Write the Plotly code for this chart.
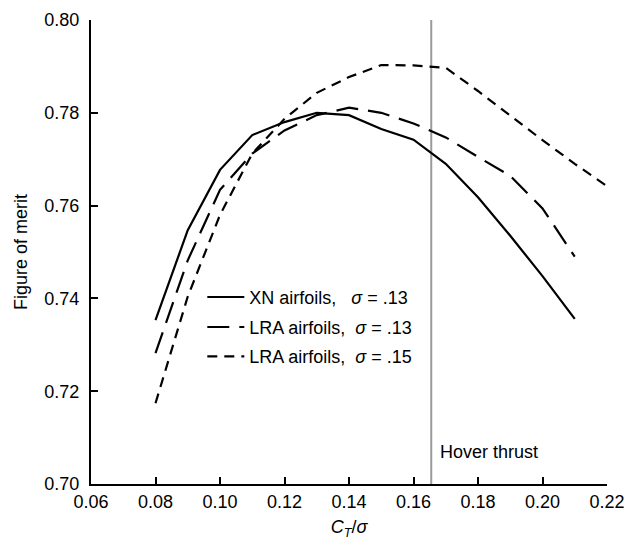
import plotly.graph_objects as go

# ---- data ----
ct_sigma = [0.08, 0.09, 0.10, 0.11, 0.12, 0.13, 0.14, 0.15, 0.16, 0.17, 0.18, 0.19, 0.20, 0.21]
ct_sigma_lra15 = [0.08, 0.09, 0.10, 0.11, 0.12, 0.13, 0.14, 0.15, 0.16, 0.17, 0.18, 0.19, 0.20, 0.21, 0.22]

fm_xn = [0.7353, 0.7547, 0.7677, 0.7752, 0.7780, 0.7800, 0.7795, 0.7765, 0.7742, 0.7690,
         0.7618, 0.7535, 0.7448, 0.7356]
fm_lra13 = [0.7282, 0.7482, 0.7634, 0.7712, 0.7762, 0.7795, 0.7811, 0.7800, 0.7777, 0.7747,
            0.7705, 0.7664, 0.7594, 0.7490]
fm_lra15 = [0.7174, 0.7404, 0.7580, 0.7712, 0.7787, 0.7843, 0.7877, 0.7903, 0.7902, 0.7897,
            0.7847, 0.7793, 0.7741, 0.7690, 0.7642]

names = ["XN airfoils,\u00a0\u00a0\u00a0<i>σ</i>\u00a0= .13",
         "LRA airfoils,\u00a0\u00a0<i>σ</i>\u00a0= .13",
         "LRA airfoils,\u00a0\u00a0<i>σ</i>\u00a0= .15"]

hover_thrust = 0.1655
hover_label_y = 0.707

x_ticks = [0.06, 0.08, 0.10, 0.12, 0.14, 0.16, 0.18, 0.20, 0.22]
y_ticks = [0.70, 0.72, 0.74, 0.76, 0.78, 0.80]

FONT = "Liberation Sans, Arial, Helvetica, sans-serif"
FS = 18

fig = go.Figure()

# hover thrust vertical line
fig.add_trace(go.Scatter(
    x=[hover_thrust, hover_thrust], y=[y_ticks[0], y_ticks[-1]],
    mode="lines", line=dict(color="#9a9a9a", width=2),
    showlegend=False, hoverinfo="skip"))

fig.add_trace(go.Scatter(
    x=ct_sigma, y=fm_xn, mode="lines", name=names[0],
    line=dict(color="black", width=2.2, dash="solid"), legend="legend"))
fig.add_trace(go.Scatter(
    x=ct_sigma, y=fm_lra13, mode="lines", name=names[1],
    line=dict(color="black", width=2.2, dash="22px,10px"), legend="legend2"))
fig.add_trace(go.Scatter(
    x=ct_sigma_lra15, y=fm_lra15, mode="lines", name=names[2],
    line=dict(color="black", width=2.2, dash="10px,7px"), legend="legend3"))

fig.add_annotation(
    x=hover_thrust, y=hover_label_y, xref="x", yref="y",
    text="Hover thrust", showarrow=False, xanchor="left", yanchor="middle",
    xshift=7, font=dict(size=FS, color="black", family=FONT))

leg_common = dict(font=dict(size=FS, color="black", family=FONT),
                  bgcolor="rgba(0,0,0,0)", xanchor="left", yanchor="middle",
                  itemwidth=37, borderwidth=0)
lx = 0.2157

fig.update_layout(
    width=639, height=542,
    margin=dict(l=91, r=32, t=20, b=58),
    paper_bgcolor="white", plot_bgcolor="white",
    font=dict(family=FONT, size=FS, color="black"),
    legend=dict(x=lx, y=0.4024, **leg_common),
    legend2=dict(x=lx, y=0.3377, **leg_common),
    legend3=dict(x=lx, y=0.2744, **leg_common),
    xaxis=dict(
        range=[x_ticks[0], x_ticks[-1]], automargin=False,
        tickvals=x_ticks, ticktext=[f"{v:.2f}" for v in x_ticks],
        showline=True, linecolor="black", linewidth=2,
        ticks="inside", ticklen=7, tickwidth=2, tickcolor="black",
        showgrid=False, zeroline=False,
        tickfont=dict(size=FS, color="black", family=FONT),
        title=dict(text="<i>C</i><sub><i>T</i></sub>/<i>σ</i>",
                   font=dict(size=FS, color="black", family=FONT), standoff=10),
    ),
    yaxis=dict(
        range=[y_ticks[0], y_ticks[-1]], automargin=False,
        tickvals=y_ticks, ticktext=[f"{v:.2f}" for v in y_ticks],
        showline=True, linecolor="black", linewidth=2,
        ticks="inside", ticklen=7, tickwidth=2, tickcolor="black",
        showgrid=False, zeroline=False,
        ticklabelstandoff=6,
        tickfont=dict(size=FS, color="black", family=FONT),
        title=dict(text="Figure of merit",
                   font=dict(size=FS, color="black", family=FONT), standoff=12),
    ),
)

fig.write_html("out.html")
